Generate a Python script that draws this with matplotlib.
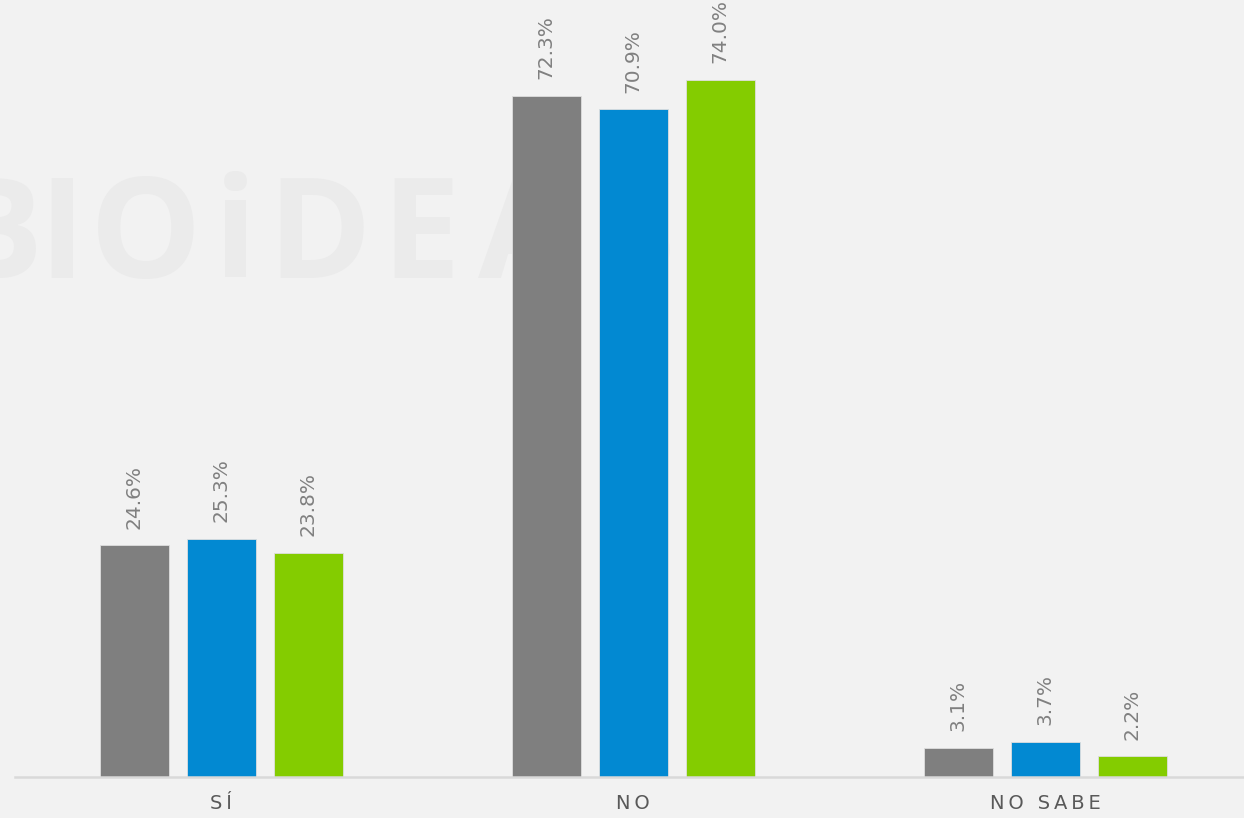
import numpy as np
import matplotlib
matplotlib.use('Agg')
import matplotlib.pyplot as plt

# data
categories = ['SÍ', 'NO', 'NO SABE']
serie_gris = [24.6, 72.3, 3.1]
serie_azul = [25.3, 70.9, 3.7]
serie_verde = [23.8, 74.0, 2.2]

colores = ['#7f7f7f', '#0289d2', '#84cc00']
bg = '#f2f2f2'

fig = plt.figure(figsize=(12.44, 8.18), dpi=100, facecolor=bg)
ax = fig.add_axes([15/1244, 41/818, 1236/1244, 777/818])
ax.set_facecolor(bg)

# watermark, letters spread out (pixel positions of left edges)
marca = ['B', 'I', 'O', 'i', 'D', 'E', 'A', 'S']
marca_x = [-52, 38, 90, 214, 267, 381, 478, 598]
for letra, px in zip(marca, marca_x):
    ax.text(px/1244, (818-278)/818, letra, transform=fig.transFigure, fontsize=101,
            fontweight='bold', family='Open Sans', color='#ebebeb',
            ha='left', va='baseline', zorder=0)

x = np.arange(len(categories))
w = 69/412
paso = 87/412
for k, (vals, c) in enumerate(zip([serie_gris, serie_azul, serie_verde], colores)):
    xs = x + (k-1)*paso
    ax.bar(xs, vals, width=w, color=c, edgecolor='#dedede', linewidth=0.6, zorder=2)
    for xi, v in zip(xs, vals):
        ax.annotate(f'{v:.1f}%', (xi, v), xytext=(0, 12), textcoords='offset points',
                    rotation=90, ha='center', va='bottom', fontsize=14.5,
                    color='#808080', zorder=3)

ax.set_xlim(-0.5, 2.5)
ax.set_ylim(0, 777/9.419)
for s in ['top', 'right', 'left']:
    ax.spines[s].set_visible(False)
ax.spines['bottom'].set_color('#d9d9d9')
ax.spines['bottom'].set_linewidth(1.8)
ax.set_yticks([])
ax.set_xticks(x)
ax.set_xticklabels(['\u2009'.join(list(c)) for c in categories], fontsize=14, color='#595959')
ax.tick_params(axis='x', length=0, pad=12)

fig.savefig('out.png', dpi=100, facecolor=bg)
